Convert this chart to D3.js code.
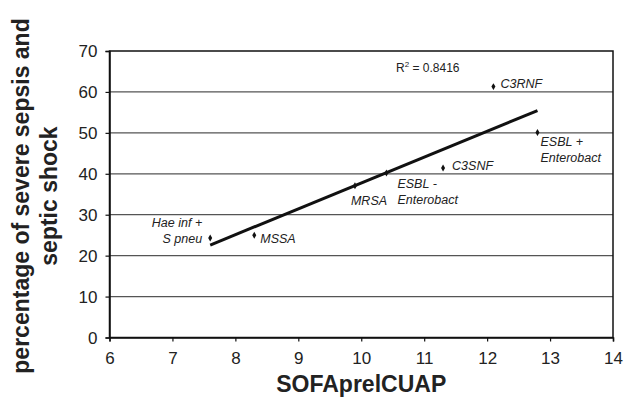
<!DOCTYPE html>
<html><head><meta charset="utf-8">
<script src="https://cdn.jsdelivr.net/npm/d3@7/dist/d3.min.js"></script>
<style>body{margin:0;background:#fff}svg{display:block}text{font-family:"Liberation Sans",Arial,Helvetica,sans-serif}</style>
</head><body>
<svg id="c" width="624" height="398"></svg>
<script>
// Data
const categories = ["Hae inf +\nS pneu", "MSSA", "MRSA", "ESBL -\nEnterobact", "C3SNF", "C3RNF", "ESBL +\nEnterobact"];
const sofaValues = [7.6, 8.3, 9.9, 10.4, 11.3, 12.1, 12.8];
const severePct = [24.3, 25.0, 37.1, 40.2, 41.4, 61.3, 50.1];
const xTicks = [6, 7, 8, 9, 10, 11, 12, 13, 14];
const yTicks = [0, 10, 20, 30, 40, 50, 60, 70];
const rSquaredLabel = "0.8416";

// Label layout (offsets from the point, anchor)
const labelLayout = [
  {dx: -8, dy: -11, anchor: "end"},
  {dx: 6, dy: 8, anchor: "start"},
  {dx: -4, dy: 19, anchor: "start"},
  {dx: 11, dy: 15, anchor: "start"},
  {dx: 9, dy: 2, anchor: "start"},
  {dx: 7, dy: 1, anchor: "start"},
  {dx: 3, dy: 14, anchor: "start"}
];

const svg = d3.select("#c");
const m = {l: 109.5, r: 613, t: 51, b: 337.5};
const x = d3.scaleLinear().domain([6, 14]).range([m.l, m.r]);
const y = d3.scaleLinear().domain([0, 70]).range([m.b, m.t]);

// gridlines
svg.append("g").selectAll("line").data(yTicks.filter(v => v > 0 && v < 70)).join("line")
  .attr("x1", m.l).attr("x2", m.r).attr("y1", d => y(d)).attr("y2", d => y(d))
  .attr("stroke", "#555").attr("stroke-width", 1.3);

// border
svg.append("rect").attr("x", m.l).attr("y", m.t).attr("width", m.r - m.l).attr("height", m.b - m.t)
  .attr("fill", "none").attr("stroke", "#111").attr("stroke-width", 1.5);

// axes
const xAxis = svg.append("g").attr("transform", `translate(0,${m.b})`)
  .call(d3.axisBottom(x).tickValues(xTicks).tickFormat(d3.format("d")).tickSize(4).tickPadding(6));
const yAxis = svg.append("g").attr("transform", `translate(${m.l},0)`)
  .call(d3.axisLeft(y).tickValues(yTicks).tickFormat(d3.format("d")).tickSize(4).tickPadding(8));
[xAxis, yAxis].forEach(g => {
  g.select(".domain").attr("stroke", "#111").attr("stroke-width", 1.5);
  g.selectAll(".tick line").attr("stroke", "#111").attr("stroke-width", 1.2);
  g.selectAll("text").attr("font-size", 17).attr("fill", "#222")
    .attr("font-family", '"Liberation Sans",Arial,sans-serif');
});
xAxis.selectAll("text").attr("dy", "0.95em");
yAxis.selectAll("text").attr("dy", "0.35em");

// trend line (least squares)
const n = sofaValues.length;
const mx = d3.mean(sofaValues), my = d3.mean(severePct);
let sxy = 0, sxx = 0;
for (let i = 0; i < n; i++) { sxy += (sofaValues[i]-mx)*(severePct[i]-my); sxx += (sofaValues[i]-mx)**2; }
const slope = sxy / sxx, icpt = my - slope * mx;
const xr = d3.extent(sofaValues);
svg.append("path")
  .attr("d", d3.line().x(d => x(d)).y(d => y(slope * d + icpt))(xr))
  .attr("stroke", "#111").attr("stroke-width", 3).attr("fill", "none");

// points
const pts = sofaValues.map((v, i) => ({x: v, y: severePct[i], label: categories[i], lay: labelLayout[i]}));
svg.append("g").selectAll("path").data(pts).join("path")
  .attr("d", d3.symbol(d3.symbolDiamond, 14))
  .attr("transform", d => `translate(${x(d.x)},${y(d.y)})`)
  .attr("fill", "#111");

// labels
const lab = svg.append("g").selectAll("text").data(pts).join("text")
  .attr("x", d => x(d.x) + d.lay.dx).attr("y", d => y(d.y) + d.lay.dy)
  .attr("text-anchor", d => d.lay.anchor)
  .attr("font-size", 12.5).attr("font-style", "italic").attr("fill", "#222");
lab.each(function(d) {
  const lines = d.label.split("\n");
  d3.select(this).selectAll("tspan").data(lines).join("tspan")
    .attr("x", x(d.x) + d.lay.dx).attr("dy", (t, i) => i === 0 ? 0 : 16).text(t => t);
});

// R^2
const rt = svg.append("text").attr("x", 396).attr("y", 72).attr("font-size", 12).attr("fill", "#222");
rt.append("tspan").text("R");
rt.append("tspan").attr("font-size", 8).attr("dy", -5).text("2");
rt.append("tspan").attr("dy", 5).text(" = " + rSquaredLabel);

// axis titles
svg.append("text").attr("x", (m.l + m.r) / 2).attr("y", 392).attr("text-anchor", "middle")
  .attr("font-size", 23).attr("font-weight", "bold").attr("fill", "#222").text("SOFAprelCUAP");
const yt = svg.append("text").attr("transform", "translate(0,196) rotate(-90)")
  .attr("text-anchor", "middle").attr("font-size", 23).attr("font-weight", "bold").attr("fill", "#222");
yt.append("tspan").attr("x", 0).attr("y", 29).text("percentage of severe sepsis and");
yt.append("tspan").attr("x", 0).attr("y", 57).text("septic shock");
</script>
</body></html>
